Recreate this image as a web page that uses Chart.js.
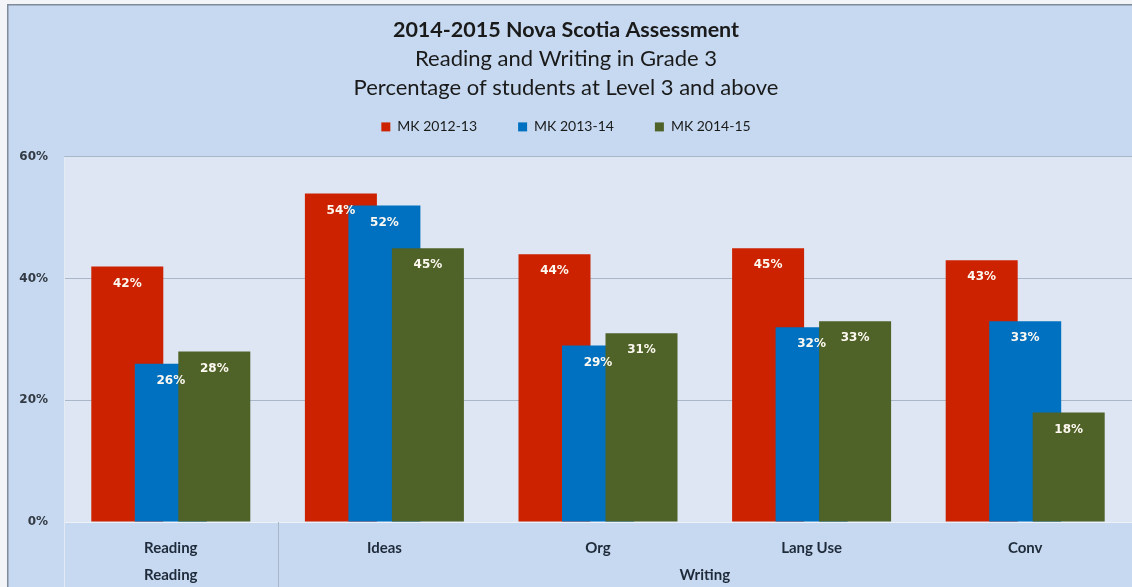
<!DOCTYPE html>
<html>
<head>
<meta charset="utf-8">
<title>2014-2015 Nova Scotia Assessment</title>
<script src="https://cdn.jsdelivr.net/npm/chart.js@4.4.1/dist/chart.umd.min.js"></script>
<style>
  html, body { margin: 0; padding: 0; background: #ffffff; }
  #wrap { width: 1132px; height: 587px; }
  canvas { display: block; }
</style>
</head>
<body>
<div id="wrap"><canvas id="chart" width="1132" height="587"></canvas></div>
<script>
// Categories on the x axis and the groups they belong to
const categories = ['Reading', 'Ideas', 'Org', 'Lang Use', 'Conv'];
const groupLabels = ['Reading', 'Writing'];
const groupSizes = [1, 4];

// Percentage of students at Level 3 and above, per school year
const seriesNames = ['MK 2012-13', 'MK 2013-14', 'MK 2014-15'];
const mk2012_13 = [42, 54, 44, 45, 43];
const mk2013_14 = [26, 52, 29, 32, 33];
const mk2014_15 = [28, 45, 31, 33, 18];

// Value axis ticks
const yTicks = [0, 20, 40, 60];

const seriesColors = ['#cc2200', '#0070c0', '#4f6228'];
const seriesValues = [mk2012_13, mk2013_14, mk2014_15];

// Page background, frame and plot area fill
const backdrop = {
  id: 'backdrop',
  beforeDraw(chart) {
    const { ctx, chartArea: a, width, height } = chart;
    ctx.save();
    ctx.fillStyle = '#f2f4f8';
    ctx.fillRect(0, 0, width, height);
    ctx.fillStyle = '#c6d9f0';
    ctx.fillRect(8, 5, width - 8, height - 5);
    ctx.fillStyle = '#7f8a9b';
    ctx.fillRect(7, 4, width - 7, 1.5);
    ctx.fillRect(7, 4, 1.5, height - 4);
    ctx.fillStyle = '#dde6f2';
    ctx.fillRect(a.left, a.top, a.right - a.left, a.bottom - a.top);
    ctx.restore();
  }
};

// Bars are drawn first-to-last so later series sit on top, then value labels
const overlapBars = {
  id: 'overlapBars',
  beforeDatasetsDraw(chart) {
    const { ctx, chartArea: a } = chart;
    ctx.save();
    ctx.beginPath();
    ctx.rect(a.left, a.top, a.right - a.left, a.bottom - a.top);
    ctx.clip();
    chart.data.datasets.forEach((ds, i) => {
      if (chart.isDatasetVisible(i)) chart.getDatasetMeta(i).controller.draw();
    });
    ctx.restore();

    ctx.save();
    ctx.font = 'bold 12px "DejaVu Sans", Verdana, sans-serif';
    ctx.fillStyle = '#fdf9f0';
    ctx.textAlign = 'center';
    ctx.textBaseline = 'middle';
    chart.data.datasets.forEach((ds, i) => {
      if (!chart.isDatasetVisible(i)) return;
      chart.getDatasetMeta(i).data.forEach((bar, j) => {
        ctx.fillText(ds.data[j] + '%', bar.x, bar.y + 17);
      });
    });
    ctx.restore();
    return false;
  }
};

// Second level of the category axis: group names and separators
const groupAxis = {
  id: 'groupAxis',
  afterDraw(chart) {
    const { ctx, chartArea: a, scales: { x }, height } = chart;
    ctx.save();
    ctx.lineWidth = 1;
    ctx.strokeStyle = '#e3eaf4';
    ctx.beginPath();
    ctx.moveTo(Math.round(a.left) + 0.5, a.top);
    ctx.lineTo(Math.round(a.left) + 0.5, height);
    ctx.stroke();

    ctx.font = 'bold 15px Lato, sans-serif';
    ctx.fillStyle = '#1f2b3a';
    ctx.textAlign = 'center';
    ctx.textBaseline = 'middle';
    let start = 0;
    groupLabels.forEach((label, g) => {
      const end = start + groupSizes[g];
      const left = x.getPixelForValue(start - 0.5);
      const right = x.getPixelForValue(end - 0.5);
      if (g > 0) {
        ctx.strokeStyle = '#a9b7c9';
        ctx.beginPath();
        ctx.moveTo(Math.round(left) + 0.5, a.bottom);
        ctx.lineTo(Math.round(left) + 0.5, height);
        ctx.stroke();
      }
      ctx.fillText(label, (left + right) / 2, 575);
      start = end;
    });
    ctx.restore();
  }
};

new Chart(document.getElementById('chart'), {
  type: 'bar',
  data: {
    labels: categories,
    datasets: seriesValues.map((values, i) => ({
      label: seriesNames[i],
      data: values,
      backgroundColor: seriesColors[i],
      borderWidth: 0,
      xAxisID: 'x',
      yAxisID: 'y'
    }))
  },
  options: {
    responsive: false,
    animation: false,
    devicePixelRatio: 1,
    layout: { padding: 0 },
    datasets: {
      bar: { categoryPercentage: 0.611, barPercentage: 1.655 }
    },
    plugins: {
      title: {
        display: true,
        text: '2014-2015 Nova Scotia Assessment',
        color: '#1a1a1a',
        font: { family: 'Lato', size: 21.5, weight: 'bold', lineHeight: 1.2 },
        padding: { top: 17, bottom: 0 }
      },
      subtitle: {
        display: true,
        text: ['Reading and Writing in Grade 3', 'Percentage of students at Level 3 and above'],
        color: '#1a1a1a',
        font: { family: 'Lato', size: 22, lineHeight: '29px' },
        padding: { top: 1.6, bottom: -23.5 }
      },
      legend: {
        display: true,
        labels: {
          boxWidth: 9,
          boxHeight: 9,
          padding: 41,
          color: '#1a1a1a',
          font: { family: 'Lato', size: 14 }
        }
      },
      tooltip: { enabled: false }
    },
    scales: {
      x: {
        grid: { display: false },
        border: { display: false },
        ticks: {
          color: '#1f2b3a',
          font: { family: 'Lato', size: 15, weight: 'bold' },
          padding: 9,
          maxRotation: 0
        },
        afterFit(scale) { scale.height = 65; }
      },
      // empty band between the legend and the plot area
      gap: {
        type: 'linear',
        position: 'top',
        display: true,
        grid: { display: false },
        border: { display: false },
        ticks: { display: false },
        afterFit(scale) { scale.height = 13; }
      },
      y: {
        min: 0,
        max: 60,
        afterBuildTicks(scale) { scale.ticks = yTicks.map(v => ({ value: v })); },
        ticks: {
          callback: v => v + '%',
          color: '#333a44',
          font: { family: 'DejaVu Sans', size: 12, weight: 'bold' },
          padding: 16
        },
        grid: {
          color: ctx => (ctx.tick && ctx.tick.value === 0 ? '#edf2f8' : '#a9b7ca'),
          drawTicks: false
        },
        border: { display: false },
        afterFit(scale) { scale.width = 64; }
      }
    }
  },
  plugins: [backdrop, overlapBars, groupAxis]
});
</script>
</body>
</html>
